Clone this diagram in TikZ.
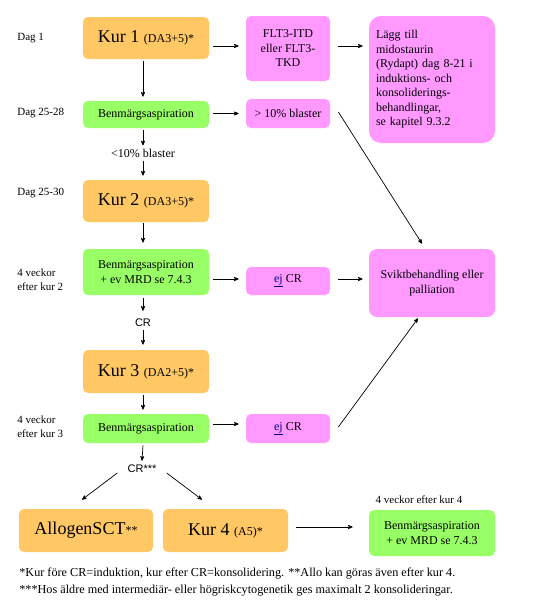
\documentclass[tikz,border=0pt]{standalone}
\usepackage{fontspec}
\setmainfont{Liberation Serif}
\newfontfamily\crfont{Liberation Sans}
\usetikzlibrary{arrows}
\definecolor{kurorange}{RGB}{255,200,100}
\definecolor{aspgreen}{RGB}{153,255,102}
\definecolor{flagpink}{RGB}{255,153,255}
\newcommand\W{126}

\begin{document}
\begin{tikzpicture}[->,>=stealth',x=1pt,y=-1pt,line width=0.7pt,
    box/.style={rectangle,rounded corners=5pt,align=center,inner sep=2pt,
      font=\fontsize{12}{14.5}\selectfont},
    kur/.style={box,fill=kurorange,minimum width=\W pt,minimum height=42pt},
    asp/.style={box,fill=aspgreen,minimum width=\W pt},
    flag/.style={box,fill=flagpink,minimum width=84pt},
    when/.style={anchor=west,align=left,inner sep=0pt,font=\fontsize{11}{14}\selectfont},
    step label/.style={inner sep=0pt,font=\fontsize{12}{14}\selectfont},
    cr label/.style={inner sep=0pt,font=\crfont\fontsize{11}{13}\selectfont},
    note/.style={anchor=west,inner sep=0pt,font=\fontsize{12.2}{14}\selectfont}]

  \useasboundingbox (0,0) rectangle (543,613);

  % main column
  \node[kur] (kur1) at (146,38)    {\fontsize{18}{20}\selectfont Kur 1 {\fontsize{12}{14}\selectfont(DA3+5)*}};
  \node[asp,minimum height=27pt] (asp1) at (146,114.5) {Benmärgsaspiration};
  \node[step label] (blast10) at (143,153) {<10\% blaster};
  \node[kur] (kur2) at (146,201)   {\fontsize{18}{20}\selectfont Kur 2 {\fontsize{12}{14}\selectfont(DA3+5)*}};
  \node[asp,minimum height=46pt] (asp2) at (146,272) {Benmärgsaspiration\\ + ev MRD se 7.4.3};
  \node[cr label] (cr2) at (143,323) {CR};
  \node[kur,minimum height=43pt] (kur3) at (146,371.5) {\fontsize{18}{20}\selectfont Kur 3 {\fontsize{12}{14}\selectfont(DA2+5)*}};
  \node[asp,minimum height=29pt] (asp3) at (146,428.5) {Benmärgsaspiration};
  \node[cr label] (cr3) at (142,469) {CR***};
  \node[kur,minimum width=134pt,minimum height=43pt] (allo) at (86,530.5) {\fontsize{18}{20}\selectfont AllogenSCT{\fontsize{12}{14}\selectfont**}};
  \node[kur,minimum width=125pt,minimum height=43pt] (kur4) at (225.5,530.5) {\fontsize{18}{20}\selectfont Kur 4 {\fontsize{12}{14}\selectfont(A5)*}};

  % findings
  \node[flag,minimum height=65pt] (flt3) at (288,48.5) {FLT3-ITD\\ eller FLT3-\\ TKD};
  \node[flag,minimum height=29pt] (blast) at (288,113.5) {> 10\% blaster};
  \node[flag,minimum height=28pt] (ejcr1) at (288,281) {\textcolor{blue!55!black}{\underline{ej}} CR};
  \node[flag,minimum height=29pt] (ejcr2) at (288,428.5) {\textcolor{blue!55!black}{\underline{ej}} CR};

  % right column
  \node[box,fill=flagpink,rounded corners=12pt,minimum width=\W pt,minimum height=127pt,
        align=left,text width=112pt] (midost) at (432,79.5)
        {Lägg till\\ midostaurin\\ (Rydapt) dag 8-21 i\\ induktions- och\\ konsoliderings-\\ behandlingar,\\ se kapitel 9.3.2};
  \node[box,fill=flagpink,rounded corners=8pt,minimum width=\W pt,minimum height=68pt] (svikt) at (432,283)
        {Sviktbehandling eller\\ palliation};
  \node[asp,minimum height=46pt] (asp4) at (432,533) {Benmärgsaspiration\\ + ev MRD se 7.4.3};

  % time labels
  \node[when] (dag1)   at (17,38)  {Dag 1};
  \node[when] (dag28)  at (17,113) {Dag 25-28};
  \node[when] (dag30)  at (17,193) {Dag 25-30};
  \node[when] (vecka2) at (17,279.5) {4 veckor\\ efter kur 2};
  \node[when] (vecka3) at (17,427) {4 veckor\\ efter kur 3};
  \node[when,anchor=center] (vecka4) at (419,500) {4 veckor efter kur 4};

  \node[note] (note1) at (19,574) {*Kur före CR=induktion, kur efter CR=konsolidering. **Allo kan göras även efter kur 4.};
  \node[note] (note2) at (19,591) {***Hos äldre med intermediär- eller högriskcytogenetik ges maximalt 2 konsolideringar.};

  % down the main column
  \draw ([shift={(-3,2)}]kur1.south)  -- ([shift={(-3,-4)}]asp1.north);
  \draw ([shift={(-3,2)}]asp1.south)  -- ([shift={(0,-3)}]blast10.north);
  \draw ([shift={(0,3)}]blast10.south) -- ([shift={(-3,-4)}]kur2.north);
  \draw ([shift={(-3,1)}]kur2.south)  -- ([shift={(-3,-6)}]asp2.north);
  \draw ([shift={(-3,3)}]asp2.south)  -- ([shift={(0,-8)}]cr2.north);
  \draw ([shift={(0,3)}]cr2.south)    -- ([shift={(-3,-5)}]kur3.north);
  \draw ([shift={(-3,2)}]kur3.south)  -- ([shift={(-3,-4)}]asp3.north);
  \draw ([shift={(-3,2)}]asp3.south)  -- ([shift={(0,-4)}]cr3.north);
  \draw ([shift={(-10,4)}]cr3.west)   -- ([shift={(-4,-9)}]allo.north);
  \draw ([shift={(10,4)}]cr3.east)    -- ([shift={(-23.5,-9)}]kur4.north);

  % across
  \draw ([shift={(4,8)}]kur1.east)    -- ([shift={(-7,-2.5)}]flt3.west);
  \draw ([shift={(8,-2.5)}]flt3.east) -- ([shift={(-6,-33.5)}]midost.west);
  \draw ([shift={(4,-1)}]asp1.east)   -- ([shift={(-7,0)}]blast.west);
  \draw ([shift={(4,7)}]asp2.east)    -- ([shift={(-7,-2)}]ejcr1.west);
  \draw ([shift={(8,-2)}]ejcr1.east)  -- ([shift={(-6,-4)}]svikt.west);
  \draw ([shift={(4,-4.5)}]asp3.east) -- ([shift={(-7,-4.5)}]ejcr2.west);
  \draw ([shift={(8,-3.5)}]kur4.east) -- ([shift={(-16,-6)}]asp4.west);
  \draw ([shift={(8,-1.5)}]blast.east) -- ([shift={(-10,-5)}]svikt.north);
  \draw ([shift={(8,-1.5)}]ejcr2.east) -- ([shift={(-14,1)}]svikt.south);
\end{tikzpicture}
\end{document}
